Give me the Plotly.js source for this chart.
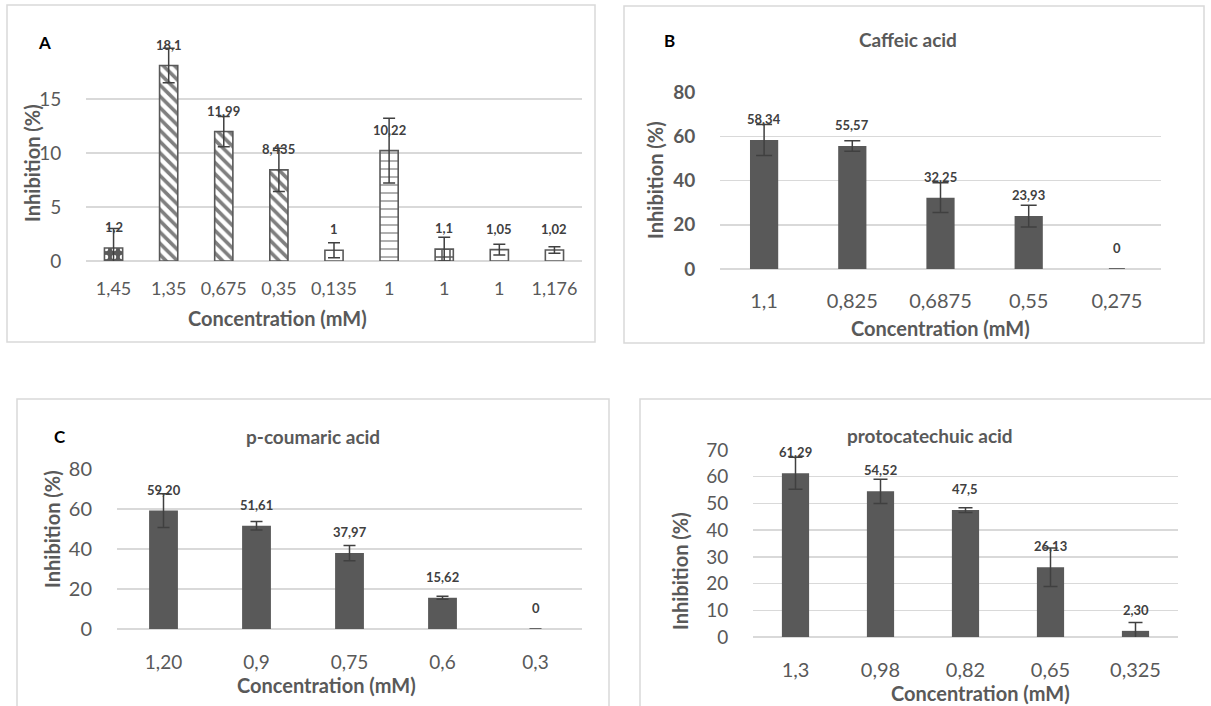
<!DOCTYPE html>
<html>
<head>
<meta charset="utf-8">
<script src="https://cdn.plot.ly/plotly-3.0.1.min.js"></script>
<style>
  html, body { margin: 0; padding: 0; background: #ffffff; }
  #chart { width: 1211px; height: 706px; }
</style>
</head>
<body>
<div id="chart"></div>
<script>
// ---------- DATA ----------
const catsA   = ['1,45', '1,35', '0,675', '0,35', '0,135', '1', '1', '1', '1,176'];
const valsA   = [1.2, 18.1, 11.99, 8.435, 1, 10.22, 1.1, 1.05, 1.02];
const errA    = [1.8, 1.6, 1.4, 2.0, 0.7, 3.0, 1.1, 0.5, 0.3];
const labelsA = ['1,2', '18,1', '11,99', '8,435', '1', '10,22', '1,1', '1,05', '1,02'];

const catsB   = ['1,1', '0,825', '0,6875', '0,55', '0,275'];
const valsB   = [58.34, 55.57, 32.25, 23.93, 0];
const errB    = [7.0, 2.4, 6.7, 4.9, 0];
const labelsB = ['58,34', '55,57', '32,25', '23,93', '0'];

const catsC   = ['1,20', '0,9', '0,75', '0,6', '0,3'];
const valsC   = [59.2, 51.61, 37.97, 15.62, 0];
const errC    = [8.4, 2.1, 3.8, 0.8, 0];
const labelsC = ['59,20', '51,61', '37,97', '15,62', '0'];

const catsD   = ['1,3', '0,98', '0,82', '0,65', '0,325'];
const valsD   = [61.29, 54.52, 47.5, 26.13, 2.3];
const errD    = [6.0, 4.5, 0.9, 7.2, 3.1];
const labelsD = ['61,29', '54,52', '47,5', '26,13', '2,30'];

// ---------- STYLE ----------
const W = 1211, H = 706;
const px = x => x / W;
const py = y => 1 - y / H;
const DARK = '#595959', GRID = '#d9d9d9', ERR = '#404040';
const FAM = 'Lato, "Open Sans", sans-serif';

const patShapeA = ['.', '\\', '\\', '\\', '', '-', '+', '', ''];
const patFgA    = ['#ffffff', '#7f7f7f', '#7f7f7f', '#7f7f7f', DARK, DARK, DARK, DARK, DARK];
const patBgA    = [DARK, '#ffffff', '#ffffff', '#ffffff', '#ffffff', '#ffffff', '#ffffff', '#ffffff', '#ffffff'];
const patSolA   = [0.25, 0.45, 0.45, 0.45, 0.1, 0.12, 0.35, 0.1, 0.1];

function idx(a) { return a.map((_, i) => i); }

function barTrace(vals, errs, xa, ya, width, capw, extra) {
  const t = {
    type: 'bar',
    x: idx(vals), y: vals,
    xaxis: xa, yaxis: ya,
    width: width,
    marker: { color: DARK, line: { width: 0 } },
    error_y: { type: 'data', array: errs, visible: true, color: ERR, thickness: 1.5, width: capw },
    hoverinfo: 'none',
    showlegend: false
  };
  return Object.assign(t, extra || {});
}

const traces = [
  barTrace(valsA, errA, 'x', 'y', 0.33, 6, {
    marker: {
      color: '#ffffff',
      line: { color: DARK, width: 1.6 },
      pattern: { shape: patShapeA, fgcolor: patFgA, bgcolor: patBgA, size: 8, solidity: patSolA, fillmode: 'replace' }
    }
  }),
  barTrace(valsB, errB, 'x2', 'y2', 0.32, 8),
  barTrace(valsC, errC, 'x3', 'y3', 0.31, 6),
  barTrace(valsD, errD, 'x4', 'y4', 0.32, 7)
];

function xAxis(cats, x0, x1, anchor, ticklen, size) {
  return {
    domain: [px(x0), px(x1)], anchor: anchor,
    range: [-0.5, cats.length - 0.5],
    tickmode: 'array', tickvals: idx(cats), ticktext: cats,
    showgrid: false, zeroline: false, showline: false,
    ticks: 'outside', ticklen: ticklen, tickcolor: 'rgba(0,0,0,0)',
    tickfont: { family: FAM, size: size, color: DARK },
    fixedrange: true
  };
}
function yAxis(y0, y1, range, tickvals, ticktext, anchor, size, bold) {
  return {
    domain: [py(y0), py(y1)], anchor: anchor,
    range: range,
    tickmode: 'array', tickvals: tickvals, ticktext: ticktext,
    showgrid: true, gridcolor: GRID, gridwidth: 1.5,
    zeroline: true, zerolinecolor: GRID, zerolinewidth: 1.5,
    showline: false,
    ticks: 'outside', ticklen: 20, tickcolor: 'rgba(0,0,0,0)',
    tickfont: { family: FAM, size: size, color: DARK, weight: bold ? 700 : 400 },
    fixedrange: true
  };
}

const annotations = [];
function dataLabels(vals, labels, xr, yr) {
  vals.forEach((v, i) => {
    annotations.push({
      xref: xr, yref: yr, x: i, y: v, text: '<b>' + labels[i] + '</b>',
      showarrow: false, yshift: 21, xanchor: 'center', yanchor: 'middle',
      font: { family: FAM, size: 13, color: ERR }
    });
  });
}
dataLabels(valsA, labelsA, 'x', 'y');
dataLabels(valsB, labelsB, 'x2', 'y2');
dataLabels(valsC, labelsC, 'x3', 'y3');
dataLabels(valsD, labelsD, 'x4', 'y4');

function paperText(text, x, y, size, color, angle) {
  annotations.push({
    xref: 'paper', yref: 'paper', x: px(x), y: py(y), text: '<b>' + text + '</b>',
    showarrow: false, xanchor: 'center', yanchor: 'middle', textangle: angle || 0,
    font: { family: FAM, size: size, color: color }
  });
}
// panel letters
paperText('A', 44, 42, 17, '#000000');
paperText('B', 669, 40, 17, '#000000');
paperText('C', 60, 436, 17, '#000000');
// panel titles
paperText('Caffeic acid', 908, 39, 19, DARK);
paperText('p-coumaric acid', 313, 436, 19, DARK);
paperText('protocatechuic acid', 930, 435, 19, DARK);
// x titles
paperText('Concentration (mM)', 277, 318, 20, DARK);
paperText('Concentration (mM)', 940, 328, 20, DARK);
paperText('Concentration (mM)', 326, 685, 20, DARK);
paperText('Concentration (mM)', 980, 693, 20, DARK);
// y titles
paperText('Inhibition (%)', 32, 163, 20, DARK, -90);
paperText('Inhibition (%)', 655, 180, 20, DARK, -90);
paperText('Inhibition (%)', 52, 529, 20, DARK, -90);
paperText('Inhibition (%)', 680, 571, 20, DARK, -90);

function box(x0, y0, x1, y1) {
  return { type: 'rect', xref: 'paper', yref: 'paper', x0: px(x0), x1: px(x1), y0: py(y1), y1: py(y0),
           line: { color: GRID, width: 1.5 }, fillcolor: 'rgba(0,0,0,0)', layer: 'below' };
}

const layout = {
  width: W, height: H,
  margin: { l: 0, r: 0, t: 0, b: 0 },
  paper_bgcolor: '#ffffff', plot_bgcolor: 'rgba(0,0,0,0)',
  showlegend: false,
  bargap: 0.6,
  xaxis:  xAxis(catsA, 86, 582, 'y', 11, 18),
  yaxis:  yAxis(261, 45, [0, 20], [0, 5, 10, 15, 20], ['0', '5', '10', '15', ''], 'x', 19, false),
  xaxis2: xAxis(catsB, 720, 1161, 'y2', 14, 20),
  yaxis2: yAxis(269, 92, [0, 80], [0, 20, 40, 60, 80], ['0', '20', '40', '60', '80'], 'x2', 19, true),
  xaxis3: xAxis(catsC, 117, 582, 'y3', 16, 19),
  yaxis3: yAxis(629, 469, [0, 80], [0, 20, 40, 60, 80], ['0', '20', '40', '60', '80'], 'x3', 20, false),
  xaxis4: xAxis(catsD, 753, 1178, 'y4', 15, 20),
  yaxis4: yAxis(637, 450, [0, 70], [0, 10, 20, 30, 40, 50, 60, 70], ['0', '10', '20', '30', '40', '50', '60', '70'], 'x4', 19, false),
  shapes: [
    box(7, 5, 595, 342),
    box(624, 6, 1204, 343),
    box(17, 399, 609, 720),
    box(640, 399, 1225, 720)
  ],
  annotations: annotations
};

Plotly.newPlot('chart', traces, layout, { staticPlot: true, displayModeBar: false });
</script>
</body>
</html>
